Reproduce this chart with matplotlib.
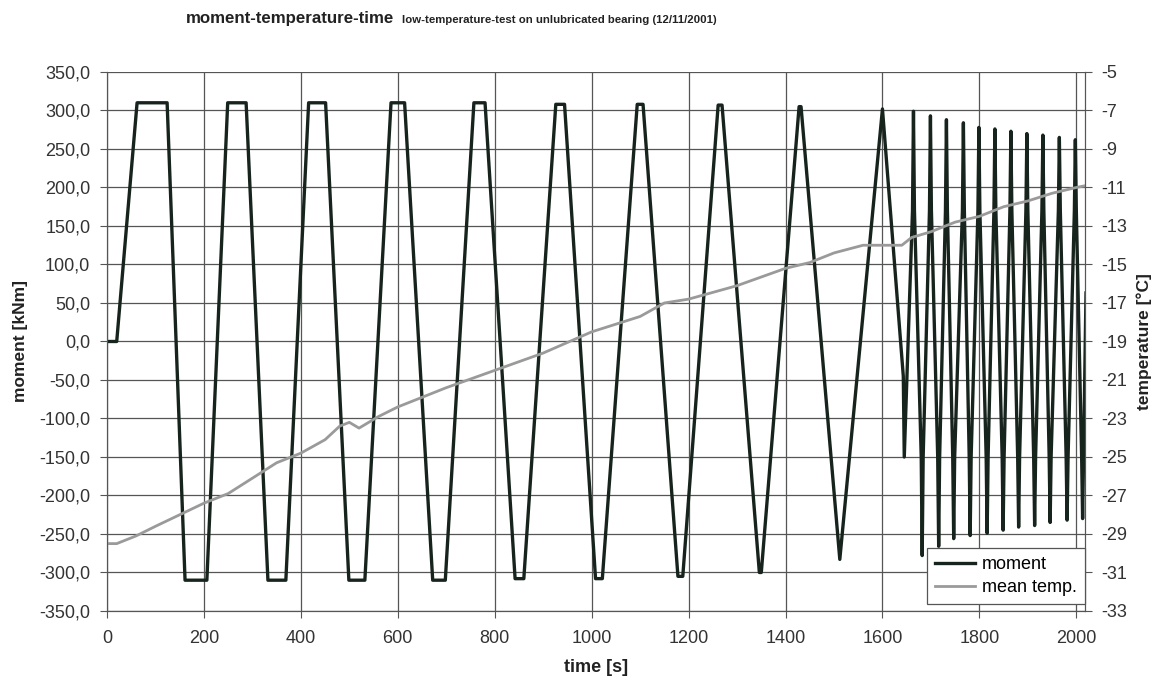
"""Moment / temperature vs time for the low-temperature bearing test."""
import matplotlib
matplotlib.use("Agg")
import matplotlib.pyplot as plt
import numpy as np
from matplotlib.ticker import FixedLocator, FuncFormatter, MultipleLocator

plt.rcParams["font.family"] = ["Liberation Sans", "DejaVu Sans"]

# slow cycles: flat tops / bottoms (start, end, value)
flat_start = [62, 161, 249, 332, 416, 499, 586, 672, 757, 842, 926, 1008, 1094, 1178, 1261, 1346, 1428, 1512, 1600, 1643]
flat_end = [124, 206, 287, 369, 451, 532, 614, 698, 780, 860, 944, 1022, 1106, 1188, 1269, 1350, 1432, 1512, 1600, 1643]
flat_value = [310, -310, 310, -310, 310, -310, 310, -310, 310, -308, 308, -308, 308, -305, 307, -300, 305, -283, 302, -45]

# fast cycles after t=1650 s
fast_peak_t = [1664, 1699, 1732, 1767, 1799, 1832, 1865, 1898, 1931, 1965, 1998]
fast_peak_v = [299, 293, 288, 284, 278, 276, 273, 270, 268, 265, 262]
fast_trough_t = [1682, 1716, 1747, 1781, 1816, 1849, 1881, 1914, 1946, 1981, 2013]
fast_trough_v = [-278, -266, -256, -252, -249, -245, -241, -239, -235, -232, -230]
fast_kink_hi = 170
fast_kink_lo = -150

start_t = [0, 20]
start_v = [0, 0]
end_t = [2020]
end_v = [63]

# mean temperature
temp_t = [0, 20, 60, 100, 150, 200, 250, 300, 350, 400, 450, 480, 500, 520, 560, 600, 700, 800, 900,
          1000, 1050, 1100, 1150, 1200, 1300, 1400, 1450, 1500, 1560, 1640, 1660, 1700, 1750, 1800,
          1850, 1900, 1950, 2000, 2020]
temp_val = [-29.5, -29.5, -29.1, -28.6, -28.0, -27.4, -26.9, -26.1, -25.3, -24.8, -24.1, -23.4, -23.2,
            -23.5, -22.9, -22.4, -21.4, -20.5, -19.6, -18.5, -18.1, -17.7, -17.0, -16.8, -16.1, -15.2,
            -14.9, -14.4, -14.0, -14.0, -13.6, -13.3, -12.8, -12.5, -12.0, -11.7, -11.3, -11.0, -10.9]

temp_ticks = list(range(-33, -4, 2))


def build_moment():
    t = list(start_t)
    v = list(start_v)
    for a, b, val in zip(flat_start, flat_end, flat_value):
        t += [a, b]
        v += [val, val]
    hw = 2.0
    for pt, pv, tt, tv in zip(fast_peak_t, fast_peak_v, fast_trough_t, fast_trough_v):
        t += [t[-1] + hw, pt - hw, pt, pt + hw, tt - hw, tt]
        v += [fast_kink_lo, fast_kink_hi, pv, fast_kink_hi, fast_kink_lo, tv]
    t += end_t
    v += end_v
    return np.array(t, dtype=float), np.array(v, dtype=float)


def main():
    fig = plt.figure(figsize=(11.57, 6.81), dpi=100)
    ax = fig.add_axes([0.0925, 0.1028, 0.8453, 0.7915])
    ax2 = ax.twinx()

    mt, mv = build_moment()
    l1, = ax.plot(mt, mv, color="#17241d", lw=2.4, label="moment", zorder=3)
    l2, = ax2.plot(temp_t, temp_val, color="#9a9a9a", lw=2.0, label="mean temp.")

    ax.set_xlim(0, 2018)
    ax.set_ylim(-350, 350)
    ax2.set_ylim(-33, -5)
    ax.xaxis.set_major_locator(MultipleLocator(200))
    ax.yaxis.set_major_locator(MultipleLocator(50))
    ax2.yaxis.set_major_locator(FixedLocator(temp_ticks))
    ax.yaxis.set_major_formatter(FuncFormatter(lambda y, _: f"{y:.1f}".replace(".", ",")))
    ax2.yaxis.set_major_formatter(FuncFormatter(lambda y, _: f"{y:.0f}"))

    ax.grid(True, color="#555555", lw=0.9)
    ax.set_axisbelow(True)
    for a in (ax, ax2):
        for s in a.spines.values():
            s.set_color("#555555")
        a.tick_params(labelsize=13, colors="#333333", length=5, color="#555555", pad=7)
    ax.tick_params(axis="x", pad=9)
    ax.spines["top"].set_visible(False)
    ax2.spines["top"].set_visible(False)

    ax.set_xlabel("time [s]", fontsize=13, fontweight="bold", color="#222222", labelpad=8)
    ax.set_ylabel("moment [kNm]", fontsize=12.5, fontweight="bold", color="#222222", labelpad=8)
    ax2.set_ylabel("temperature [°C]", fontsize=12.5, fontweight="bold", color="#222222", labelpad=6)

    fig.text(0.3405, 0.966, "moment-temperature-time", ha="right", va="baseline",
             fontsize=12.2, fontweight="bold", color="#222222")
    fig.text(0.3475, 0.966, "low-temperature-test on unlubricated bearing (12/11/2001)",
             ha="left", va="baseline", fontsize=8.2, fontweight="bold", color="#222222")

    leg = ax2.legend([l1, l2], ["moment", "mean temp."], loc="lower right",
                     bbox_to_anchor=(1.0, 0.013), borderaxespad=0, fontsize=13,
                     fancybox=False, framealpha=1, edgecolor="#555555",
                     handlelength=2.2, handletextpad=0.4, borderpad=0.45, labelspacing=0.3)
    leg.get_frame().set_linewidth(0.9)

    fig.savefig("out.png", dpi=100)
    plt.close(fig)


if __name__ == "__main__":
    main()
